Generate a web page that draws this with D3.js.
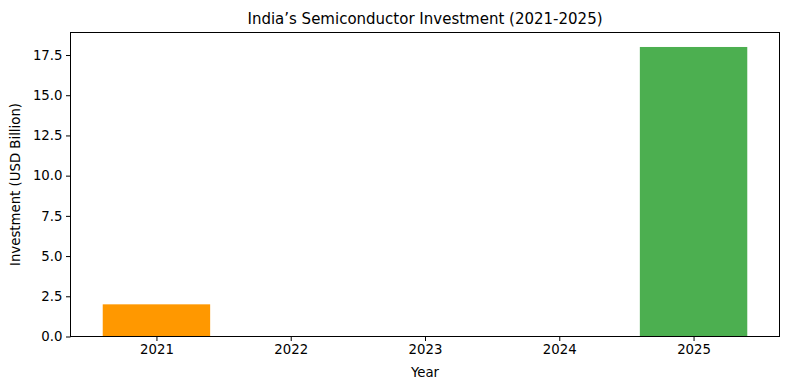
<!DOCTYPE html>
<html>
<head>
<meta charset="utf-8">
<title>India Semiconductor Investment</title>
<script src="https://d3js.org/d3.v7.min.js"></script>
<style>
  body { margin: 0; background: #fff; }
  text { font-family: "DejaVu Sans", sans-serif; fill: #000; }
</style>
</head>
<body>
<script>
// data
var years = ["2021", "2022", "2023", "2024", "2025"];
var investment = [2, 0, 0, 0, 18];
var barColors = ["#ff9800", "#2196f3", "#9c27b0", "#f44336", "#4caf50"];
var yTicks = [0, 2.5, 5, 7.5, 10, 12.5, 15, 17.5];

var W = 790, H = 390;
var margin = {top: 32.5, right: 10.5, bottom: 53, left: 70.5};
var width = 709,
    height = 304;

var svg = d3.select("body").append("svg")
    .attr("width", W).attr("height", H);
var g = svg.append("g")
    .attr("transform", "translate(" + margin.left + "," + margin.top + ")");

// matplotlib-like linear x: bars of width 0.8, 5% margins
var n = years.length;
var lo = -0.4, hi = n - 1 + 0.4, pad = (hi - lo) * 0.05;
var x = d3.scaleLinear().domain([lo - pad, hi + pad]).range([0, width]);
var ymax = d3.max(investment) * 1.05;
var y = d3.scaleLinear().domain([0, ymax]).range([height, 0]);

g.selectAll("rect.bar")
    .data(investment)
    .enter().append("rect")
    .attr("class", "bar")
    .attr("x", function(d, i) { return x(i - 0.4); })
    .attr("width", function() { return x(0.4) - x(-0.4); })
    .attr("y", function(d) { return y(d); })
    .attr("height", function(d) { return y(0) - y(d); })
    .attr("fill", function(d, i) { return barColors[i]; });

var xAxis = d3.axisBottom(x)
    .tickValues(d3.range(n))
    .tickFormat(function(i) { return years[i]; })
    .tickSizeOuter(0).tickSize(4.5).tickPadding(3.5);
var yAxis = d3.axisLeft(y)
    .tickValues(yTicks)
    .tickFormat(d3.format(".1f"))
    .tickSizeOuter(0).tickSize(4.5).tickPadding(3.5);

var gx = g.append("g").attr("transform", "translate(0," + height + ")").call(xAxis);
var gy = g.append("g").call(yAxis);
[gx, gy].forEach(function(a) {
  a.select(".domain").remove();
  a.selectAll("line").attr("stroke", "#000").attr("stroke-width", 1);
  a.selectAll("text").style("font-size", "13.3px").style("font-family", "DejaVu Sans");
});

// frame
g.append("rect")
    .attr("width", width).attr("height", height)
    .attr("fill", "none").attr("stroke", "#000").attr("stroke-width", 1);

svg.append("text")
    .attr("x", margin.left + width / 2).attr("y", 24)
    .attr("text-anchor", "middle")
    .style("font-size", "15px")
    .text("India\u2019s Semiconductor Investment (2021-2025)");

svg.append("text")
    .attr("x", margin.left + width / 2).attr("y", 377)
    .attr("text-anchor", "middle")
    .style("font-size", "13.3px")
    .text("Year");

svg.append("text")
    .attr("transform", "translate(20," + (margin.top + height / 2) + ") rotate(-90)")
    .attr("text-anchor", "middle")
    .style("font-size", "13.3px")
    .text("Investment (USD Billion)");
</script>
</body>
</html>
